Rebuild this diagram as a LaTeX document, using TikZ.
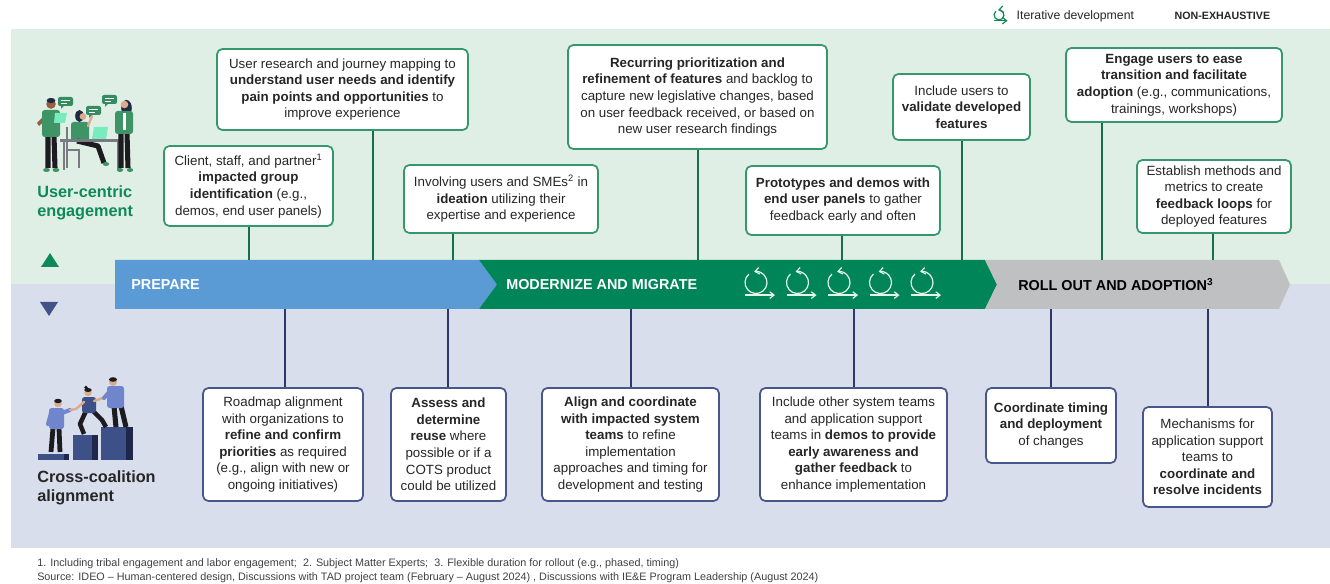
\documentclass[tikz,border=0pt]{standalone}
\usepackage{fontspec}
\setmainfont{Liberation Sans}
\usetikzlibrary{arrows.meta}

\definecolor{mintbg}{RGB}{224,239,230}
\definecolor{lilacbg}{RGB}{216,222,236}
\definecolor{prepblue}{RGB}{91,155,213}
\definecolor{modgreen}{RGB}{0,133,88}
\definecolor{rollgrey}{RGB}{190,192,194}
\definecolor{userline}{RGB}{52,152,108}
\definecolor{userwire}{RGB}{20,112,76}
\definecolor{teamline}{RGB}{72,86,140}
\definecolor{teamwire}{RGB}{44,56,108}
\definecolor{usergreen}{RGB}{14,138,88}
\definecolor{teamnavy}{RGB}{68,82,138}
\definecolor{ink}{RGB}{38,38,38}
\definecolor{noteink}{RGB}{64,64,64}
\definecolor{loopwhite}{RGB}{228,244,236}
\definecolor{shirtgreen}{RGB}{62,148,100}
\definecolor{screengreen}{RGB}{120,236,190}
\definecolor{bubblegreen}{RGB}{52,140,96}
\definecolor{pants}{RGB}{28,28,32}
\definecolor{skin}{RGB}{222,170,140}
\definecolor{skindark}{RGB}{150,95,65}
\definecolor{hair}{RGB}{32,40,70}
\definecolor{chairgrey}{RGB}{120,124,130}
\definecolor{shirtblue}{RGB}{112,134,204}
\definecolor{blockblue}{RGB}{62,80,136}
\definecolor{blockdark}{RGB}{30,40,74}

\tikzset{
  userbox/.style={draw=userline, line width=1.3pt, rounded corners=4pt, fill=white,
    align=center, text=ink, inner sep=0pt, font=\fontsize{10}{12.45}\selectfont},
  teambox/.style={userbox, draw=teamline},
  boxsize/.style 2 args={minimum width=#1*0.75pt, minimum height=#2*0.75pt},
  userwire/.style={draw=userwire, line width=1.3pt},
  teamwire/.style={draw=teamwire, line width=1.3pt},
  phase/.style={font=\fontsize{10.8}{13}\selectfont\bfseries, anchor=west, inner sep=0pt},
  sidelabel/.style={font=\fontsize{12.2}{14.6}\selectfont\bfseries, align=left, anchor=west, inner sep=0pt},
  iterloop/.pic={
    \draw[line width=0.9pt, -{Straight Barb[length=3.2pt, width=5pt]}]
      (130:11) arc[start angle=130, end angle=460, radius=11];
    \draw[line width=0.9pt, -{Straight Barb[length=3.2pt, width=5pt]}] (-11,-12.6) -- (19,-12.6);
  }
}

\begin{document}
\begin{tikzpicture}[x=0.75pt,y=0.75pt,yscale=-1,xscale=1]
  \useasboundingbox (0,0) rectangle (1330,584);

  \fill[mintbg] (11,29) rectangle (1330,284);
  \fill[lilacbg] (11,284) rectangle (1330,548);

  % legend
  \pic[color=usergreen, scale=0.45] at (999,15) {iterloop};
  \node[font=\fontsize{9.2}{11}\selectfont, text=ink, anchor=west] (legend) at (1012,16) {Iterative development};
  \node[font=\fontsize{8}{10}\selectfont\bfseries, text=ink, anchor=west] (nonexh) at (1170,16) {NON-EXHAUSTIVE};

  % phases
  \fill[prepblue] (115,260) -- (479,260) -- (497,284.5) -- (479,309) -- (115,309) -- cycle;
  \fill[modgreen] (479,260) -- (985,260) -- (997,284.5) -- (985,309) -- (479,309) -- (497,284.5) -- cycle;
  \fill[rollgrey] (985,260) -- (1279,260) -- (1290,284.5) -- (1279,309) -- (985,309) -- (997,284.5) -- cycle;
  \node[phase, text=white] (prepare) at (131,284.5) {PREPARE};
  \node[phase, text=white] (modernize) at (506,284.5) {MODERNIZE AND MIGRATE};
  \node[phase, text=black] (rollout) at (1018,284.5) {ROLL OUT AND ADOPTION\textsuperscript{3}};
  \foreach \i in {0,...,4}
    \pic[color=loopwhite] at ({756+41.5*\i},282.5) {iterloop};

  % side labels
  \fill[usergreen] (41,267) -- (59,267) -- (50,253) -- cycle;
  \fill[teamnavy] (40,302) -- (58,302) -- (49,316) -- cycle;
  \node[sidelabel, text=usergreen] (usercentric) at (37,203) {User-centric\\engagement};
  \node[sidelabel, text=ink] (crosscoal) at (37,488) {Cross-coalition\\alignment};

  % people at the table
  \draw[pants, line width=3.8pt] (48,136) -- (48,168) (54,136) -- (55,168);
  \fill[shirtgreen] (46.5,170) ellipse (3.4 and 2) (56,170) ellipse (3.4 and 2);
  \fill[skindark] (44,116) -- (37,123) -- (39,126) -- (46,120) -- cycle;
  \fill[shirtgreen, rounded corners=2pt] (42,110) rectangle (60,137);
  \fill[skindark] (51,104) circle (4.8);
  \fill[hair] (51,100.5) ellipse (4.3 and 2.6);
  \fill[screengreen] (55,113) -- (67,113) -- (65,123) -- (54,123) -- cycle;
  \draw[chairgrey, line width=1.2pt] (67,127) -- (67,168) (67,150) -- (79,150) -- (79,168);
  \fill[shirtgreen, rounded corners=2pt] (71,122) rectangle (89,142);
  \fill[hair] (79.5,116) ellipse (4.3 and 6);
  \fill[skin] (83,116.5) circle (3.4);
  \draw[skin, line width=1.8pt, line cap=round] (88,126) -- (92,116);
  \draw[pants, line width=3.8pt, line join=round] (77,141) -- (98,146) -- (104,163);
  \fill[shirtgreen] (106,164) ellipse (3.2 and 2);
  \fill[chairgrey] (60,139) rectangle (122,142.5);
  \draw[chairgrey, line width=1.4pt] (64,142) -- (64,170) (118,142) -- (118,170);
  \fill[screengreen] (94,127) -- (108,127) -- (106,139) -- (92,139) -- cycle;
  \draw[pants, line width=3.8pt] (121,133) -- (121,168) (127,133) -- (128,168);
  \fill[shirtgreen] (120,170) ellipse (3.2 and 2) (130,170) ellipse (3.2 and 2);
  \fill[hair] (126.5,108) ellipse (5.3 and 8);
  \fill[shirtgreen, rounded corners=2pt] (115,111) rectangle (133,134);
  \fill[white] (123,113) rectangle (126,130);
  \fill[skin] (124.5,104.5) circle (3.8);
  \foreach \bx/\by in {58/97, 86/106, 102/95} {
    \fill[bubblegreen, rounded corners=1.5pt] (\bx,\by) rectangle ++(15,9);
    \fill[bubblegreen] (\bx+3,\by+8) -- ++(4,0) -- ++(-4,4) -- cycle;
    \draw[white, line width=0.6pt] (\bx+3,\by+3.5) -- ++(9,0) (\bx+3,\by+6) -- ++(6,0);
  }

  % people on the steps
  \fill[blockblue] (38,454) rectangle (64,460);
  \fill[blockdark] (64,454) rectangle (69,460);
  \fill[blockblue] (73,435) rectangle (92,460);
  \fill[blockdark] (92,435) rectangle (98,460);
  \fill[blockblue] (101,427) rectangle (126,460);
  \fill[blockdark] (126,427) rectangle (133,460);
  \draw[pants, line width=3.6pt] (53,428) -- (51,452) (59,428) -- (60,452);
  \fill[shirtblue, rounded corners=2pt] (49,408) rectangle (64,429);
  \draw[shirtblue, line width=3pt, line cap=round] (62,413) -- (70,410) (51,413) -- (48,424);
  \draw[skin, line width=1.8pt, line cap=round] (70,410) -- (76,409);
  \fill[skin] (58,403.5) circle (3.8);
  \fill[pants] (58,401) ellipse (3.8 and 2.2);
  \draw[pants, line width=3.4pt, line join=round] (86,411) -- (80,424) -- (84,434) (93,411) -- (102,420) -- (106,427);
  \fill[blockblue, rounded corners=2pt] (82,397) rectangle (96,413);
  \draw[skin, line width=1.8pt, line cap=round] (84,402) -- (76,409) (94,401) -- (103,398);
  \fill[skin] (88,392.5) circle (3.7);
  \fill[pants] (88,390) ellipse (3.7 and 2) (86,387.5) circle (1.9);
  \draw[pants, line width=3.8pt] (114,406) -- (116,427) (121,406) -- (126,427);
  \fill[shirtblue, rounded corners=2pt] (107,386) rectangle (124,408);
  \draw[shirtblue, line width=3pt, line cap=round] (110,391) -- (104,398);
  \fill[skin] (113,382) circle (4);
  \fill[pants] (113,379.5) ellipse (4 and 2.3);

  % user-centric boxes
  \node[userbox, boxsize={251}{81}] (research) at (342.5,89.5)
    {User research and journey mapping to\\\textbf{understand user needs and identify}\\\textbf{pain points and opportunities} to\\improve experience};
  \node[userbox, boxsize={169}{80}] (impacted) at (248.5,186)
    {Client, staff, and partner\textsuperscript{1}\\\textbf{impacted group}\\\textbf{identification} (e.g.,\\demos, end user panels)};
  \node[userbox, boxsize={194}{68}] (ideation) at (501,199)
    {Involving users and SMEs\textsuperscript{2} in\\\textbf{ideation} utilizing their\\expertise and experience};
  \node[userbox, boxsize={259}{104}] (recurring) at (697.5,97)
    {\textbf{Recurring prioritization and}\\\textbf{refinement of features} and backlog to\\capture new legislative changes, based\\on user feedback received, or based on\\new user research findings};
  \node[userbox, boxsize={194}{69}] (prototypes) at (843,200.5)
    {\textbf{Prototypes and demos with}\\\textbf{end user panels} to gather\\feedback early and often};
  \node[userbox, boxsize={137}{66}] (validate) at (961.5,107)
    {Include users to\\\textbf{validate developed}\\\textbf{features}};
  \node[userbox, boxsize={216}{74}] (engage) at (1174,85)
    {\textbf{Engage users to ease}\\\textbf{transition and facilitate}\\\textbf{adoption} (e.g., communications,\\trainings, workshops)};
  \node[userbox, boxsize={154}{73}] (feedback) at (1214,196.5)
    {Establish methods and\\metrics to create\\\textbf{feedback loops} for\\deployed features};

  \coordinate (uA) at (373,260);
  \coordinate (uB) at (249,260);
  \coordinate (uC) at (453,260);
  \coordinate (uD) at (698,260);
  \coordinate (uE) at (842,260);
  \coordinate (uF) at (962,260);
  \coordinate (uG) at (1102,260);
  \coordinate (uH) at (1213,260);
  \draw[userwire] (research.south -| uA) -- (uA);
  \draw[userwire] (impacted.south -| uB) -- (uB);
  \draw[userwire] (ideation.south -| uC) -- (uC);
  \draw[userwire] (recurring.south -| uD) -- (uD);
  \draw[userwire] (prototypes.south -| uE) -- (uE);
  \draw[userwire] (validate.south -| uF) -- (uF);
  \draw[userwire] (engage.south -| uG) -- (uG);
  \draw[userwire] (feedback.south -| uH) -- (uH);

  % coalition boxes
  \node[teambox, boxsize={160}{113}] (roadmap) at (283,444.5)
    {Roadmap alignment\\with organizations to\\\textbf{refine and confirm}\\\textbf{priorities} as required\\(e.g., align with new or\\ongoing initiatives)};
  \node[teambox, boxsize={115}{113}] (reuse) at (448.5,444.5)
    {\textbf{Assess and}\\\textbf{determine}\\\textbf{reuse} where\\possible or if a\\COTS product\\could be utilized};
  \node[teambox, boxsize={177}{113}] (coordinate) at (630.5,444.5)
    {\textbf{Align and coordinate}\\\textbf{with impacted system}\\\textbf{teams} to refine\\implementation\\approaches and timing for\\development and testing};
  \node[teambox, boxsize={187}{113}] (awareness) at (853.5,444.5)
    {Include other system teams\\and application support\\teams in \textbf{demos to provide}\\\textbf{early awareness and}\\\textbf{gather feedback} to\\enhance implementation};
  \node[teambox, boxsize={130}{75}] (deployment) at (1051,425.5)
    {\textbf{Coordinate timing}\\\textbf{and deployment}\\of changes};
  \node[teambox, boxsize={129}{100}] (incidents) at (1207.5,457)
    {Mechanisms for\\application support\\teams to\\\textbf{coordinate and}\\\textbf{resolve incidents}};

  \coordinate (cA) at (285,309);
  \coordinate (cB) at (448,309);
  \coordinate (cC) at (631,309);
  \coordinate (cD) at (854,309);
  \coordinate (cE) at (1051,309);
  \coordinate (cF) at (1208,309);
  \draw[teamwire] (cA) -- (roadmap.north -| cA);
  \draw[teamwire] (cB) -- (reuse.north -| cB);
  \draw[teamwire] (cC) -- (coordinate.north -| cC);
  \draw[teamwire] (cD) -- (awareness.north -| cD);
  \draw[teamwire] (cE) -- (deployment.north -| cE);
  \draw[teamwire] (cF) -- (incidents.north -| cF);

  % notes
  \node[font=\fontsize{8.1}{10}\selectfont, text=noteink, anchor=west, inner sep=0pt] (notes) at (37,564)
    {1. Including tribal engagement and labor engagement;\ \ 2. Subject Matter Experts;\ \ 3. Flexible duration for rollout (e.g., phased, timing)};
  \node[font=\fontsize{8.1}{10}\selectfont, text=noteink, anchor=west, inner sep=0pt] (source) at (37,578)
    {Source: IDEO -- Human-centered design, Discussions with TAD project team (February -- August 2024) , Discussions with IE\&E Program Leadership (August 2024)};
\end{tikzpicture}
\end{document}
